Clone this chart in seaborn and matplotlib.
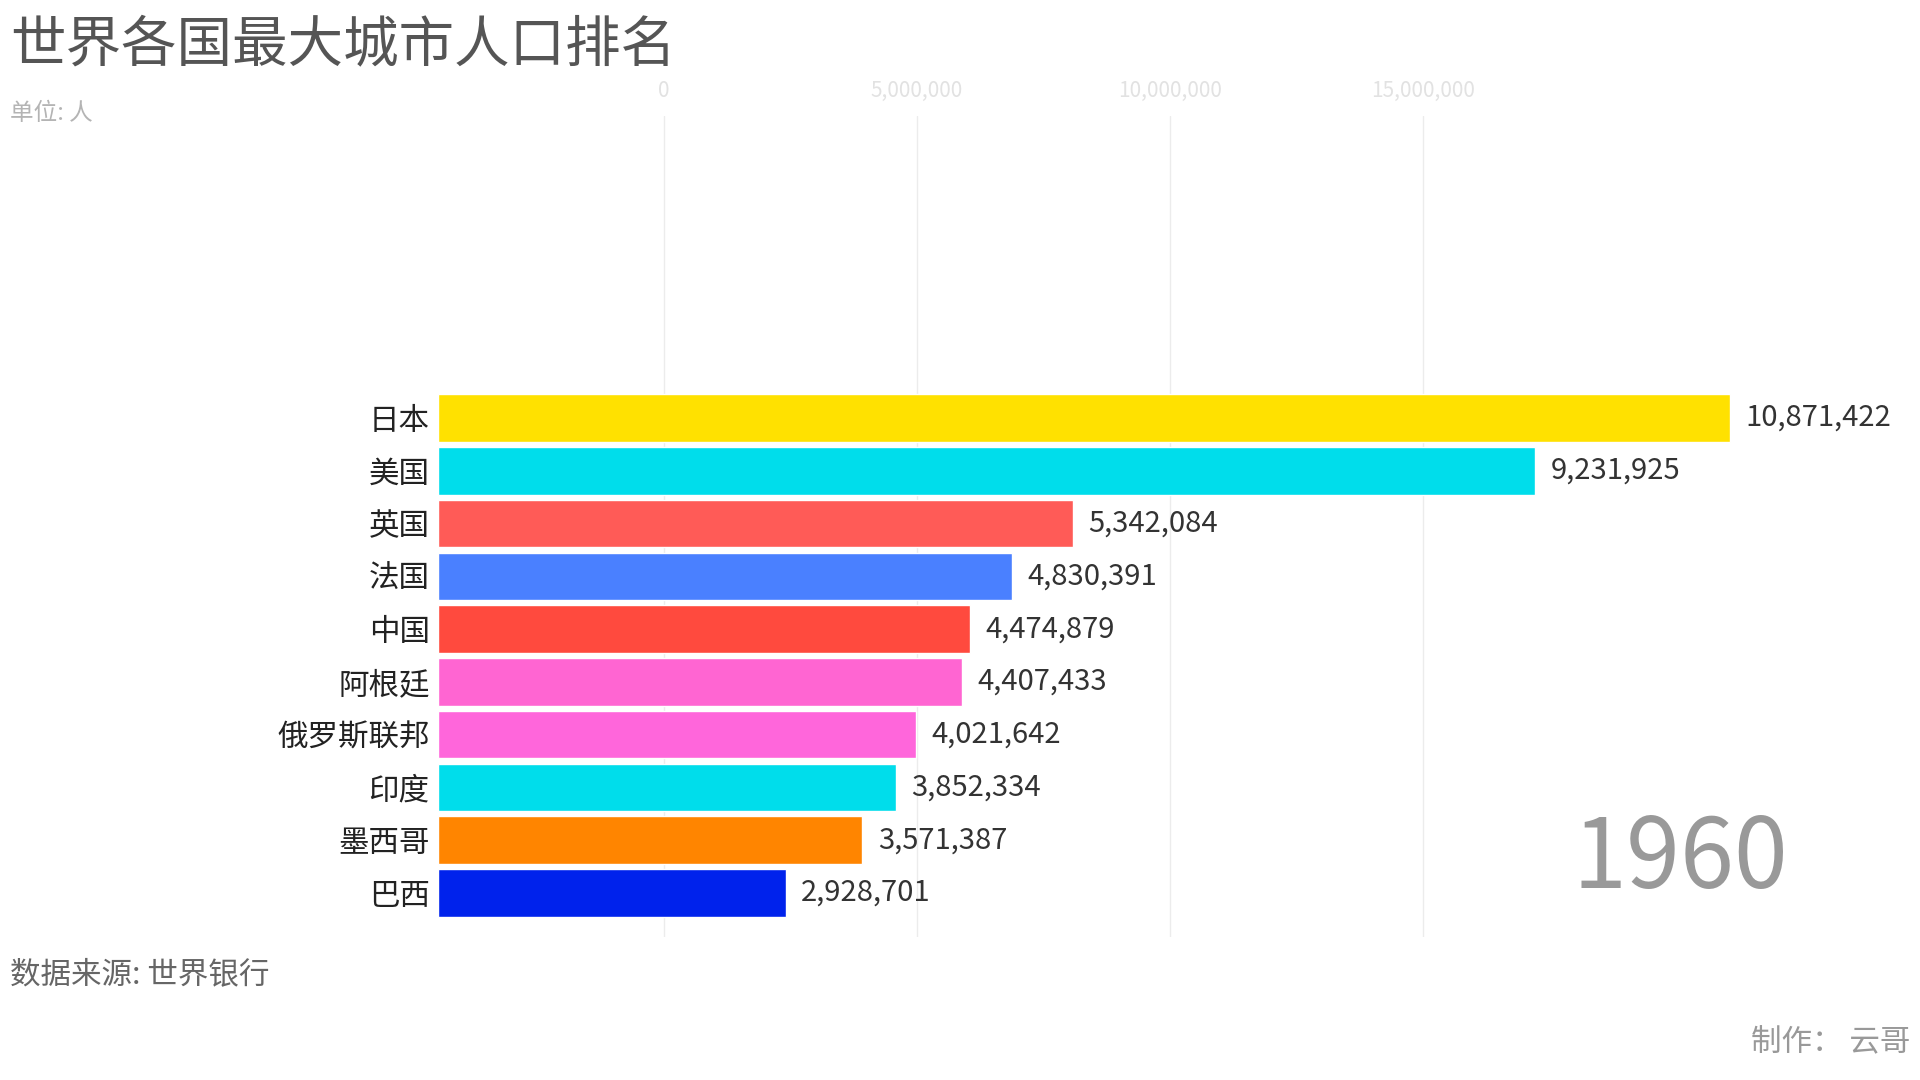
import numpy as np
import pandas as pd
import matplotlib
matplotlib.use("Agg")
import matplotlib.pyplot as plt
import seaborn as sns

countries = ["日本", "美国", "英国", "法国", "中国", "阿根廷", "俄罗斯联邦", "印度", "墨西哥", "巴西"]
population = [10871422, 9231925, 5342084, 4830391, 4474879, 4407433, 4021642, 3852334, 3571387, 2928701]
bar_colors = ["#FFE100", "#00DDEB", "#FF5B57", "#4A80FF", "#FF4A3E",
              "#FF65D2", "#FF66DB", "#00DDEB", "#FF8500", "#0022EC"]
grid_ticks = [0, 5000000, 10000000, 15000000]
grid_labels = ["0", "5,000,000", "10,000,000", "15,000,000"]
year = "1960"

sns.set_theme(style="white")
plt.rcParams["font.family"] = ["Noto Sans CJK SC", "DejaVu Sans"]

df = pd.DataFrame({"country": countries, "population": population})
palette = dict(zip(countries, bar_colors))

W, H = 1920, 1080
fig = plt.figure(figsize=(19.2, 10.8), dpi=100)
left, right, top, bottom = 438, 1880, 116, 937
pos = [left / W, 1 - bottom / H, (right - left) / W, (bottom - top) / H]

# background axis: the (lagging) grid of the animation frame
ax_grid = fig.add_axes(pos)
px_per_unit = (917 - 664) / 5000000
ax_grid.set_xlim(-(664 - left) / px_per_unit, (right - 664) / px_per_unit)
ax_grid.set_xticks(grid_ticks)
ax_grid.set_xticklabels(grid_labels, color="#e2e2e2", fontsize=15)
ax_grid.xaxis.tick_top()
ax_grid.tick_params(axis="x", length=0, pad=10)
ax_grid.set_yticks([])
ax_grid.grid(axis="x", color="#ececec", linewidth=1)
for s in ax_grid.spines.values():
    s.set_visible(False)

# bars
ax = fig.add_axes(pos)
ax.patch.set_alpha(0)
sns.barplot(data=df, x="population", y="country", hue="country", palette=palette,
            width=0.9, saturation=1, legend=False, ax=ax, orient="h")
bar_scale = (1730 - left) / population[0]
ax.set_xlim(0, (right - left) / bar_scale)
spacing = (893 - 418) / 9
ax.set_ylim(9 + (bottom - 893) / spacing, -(418 - top) / spacing)
for c in ax.containers:
    ax.bar_label(c, labels=[f"{v:,.0f}" for v in c.datavalues], padding=11,
                 fontsize=21, color="#333333")
ax.set_xlabel("")
ax.set_ylabel("")
ax.set_xticks([])
ax.tick_params(axis="y", length=0, pad=6, labelsize=22, labelcolor="#222222")
for s in ax.spines.values():
    s.set_visible(False)

fig.text(10 / W, 1 - 46 / H, "世界各国最大城市人口排名", fontsize=40, color="#555555", va="center", ha="left")
fig.text(10 / W, 1 - 114 / H, "单位: 人", fontsize=17, color="#b4b4b4", va="center", ha="left")
fig.text(10 / W, 1 - 975 / H, "数据来源: 世界银行", fontsize=22, color="#666666", va="center", ha="left")
fig.text(1910 / W, 1 - 1043 / H, "制作： 云哥", fontsize=22, color="#999999", va="center", ha="right")
fig.text(1788 / W, 1 - 860 / H, year, fontsize=70, color="#999999", va="center", ha="right")

fig.savefig("out.png", dpi=100, facecolor="white")
